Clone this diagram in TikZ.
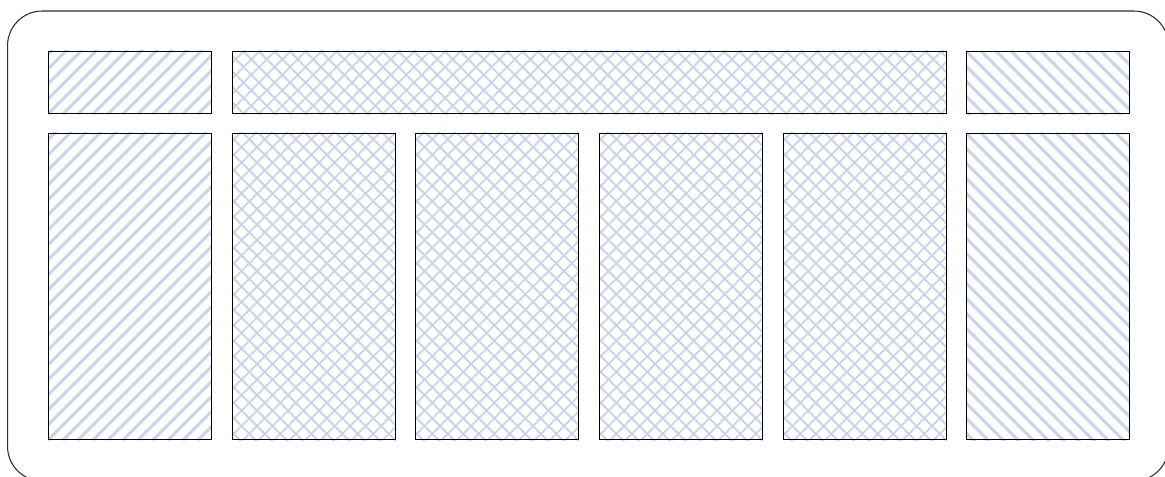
\documentclass[tikz,border=0pt]{standalone}
\pgfdeclarelayer{background}
\pgfsetlayers{background,main}
\definecolor{hatchblue}{HTML}{C6D4EC}
\definecolor{frame}{HTML}{2B2B2B}
\def\u{0.75pt}
\tikzset{
  cell/.style={draw=black, line width=0.8pt, rectangle, inner sep=0pt, anchor=north west},
  stripe/.style={draw=hatchblue, line width=3*\u},
  xline/.style={draw=hatchblue, line width=1.8*\u},
  outer/.style={draw=frame, line width=0.8pt, rectangle, rounded corners=26pt, inner sep=0pt, anchor=north west}
}
\newcommand\fillne[1]{%
  \begin{pgfonlayer}{background}\begin{scope}
  \clip (#1.north west) rectangle (#1.south east);
  \foreach \s in {-330,-315,...,200} \draw[stripe] ([shift={(\s,0)}]#1.south west) -- ++(340,-340);
  \end{scope}\end{pgfonlayer}}
\newcommand\fillnw[1]{%
  \begin{pgfonlayer}{background}\begin{scope}
  \clip (#1.north west) rectangle (#1.south east);
  \foreach \s in {-330,-315,...,200} \draw[stripe] ([shift={(\s,0)}]#1.north west) -- ++(340,340);
  \end{scope}\end{pgfonlayer}}
\newcommand\fillx[1]{%
  \begin{pgfonlayer}{background}\begin{scope}
  \clip (#1.north west) rectangle (#1.south east);
  \foreach \s in {-330,-314.5,...,730} {
    \draw[xline] ([shift={(\s,0)}]#1.south west) -- ++(340,-340);
    \draw[xline] ([shift={(\s,0)}]#1.north west) -- ++(340,340);
  }
  \end{scope}\end{pgfonlayer}}
\begin{document}
\begin{tikzpicture}[x=\u, y=-\u]
\useasboundingbox (0,0) rectangle (1165,477);
\clip (0,0) rectangle (1165,477);
\node[outer, minimum width=1161*\u, minimum height=470*\u] (frame) at (7,10.5) {};
% top row
\node[cell, minimum width=163*\u, minimum height=62*\u] (tl) at (48,51) {};
\node[cell, minimum width=714*\u, minimum height=62*\u] (tm) at (232,51) {};
\node[cell, minimum width=163*\u, minimum height=62*\u] (tr) at (966,51) {};
% bottom row
\node[cell, minimum width=163*\u, minimum height=306*\u] (b1) at (48,133) {};
\node[cell, minimum width=163*\u, minimum height=306*\u] (b2) at (232,133) {};
\node[cell, minimum width=163*\u, minimum height=306*\u] (b3) at (415,133) {};
\node[cell, minimum width=163*\u, minimum height=306*\u] (b4) at (599,133) {};
\node[cell, minimum width=163*\u, minimum height=306*\u] (b5) at (783,133) {};
\node[cell, minimum width=163*\u, minimum height=306*\u] (b6) at (966,133) {};
\fillne{tl}\fillne{b1}
\fillnw{tr}\fillnw{b6}
\fillx{tm}\fillx{b2}\fillx{b3}\fillx{b4}\fillx{b5}
\end{tikzpicture}
\end{document}
